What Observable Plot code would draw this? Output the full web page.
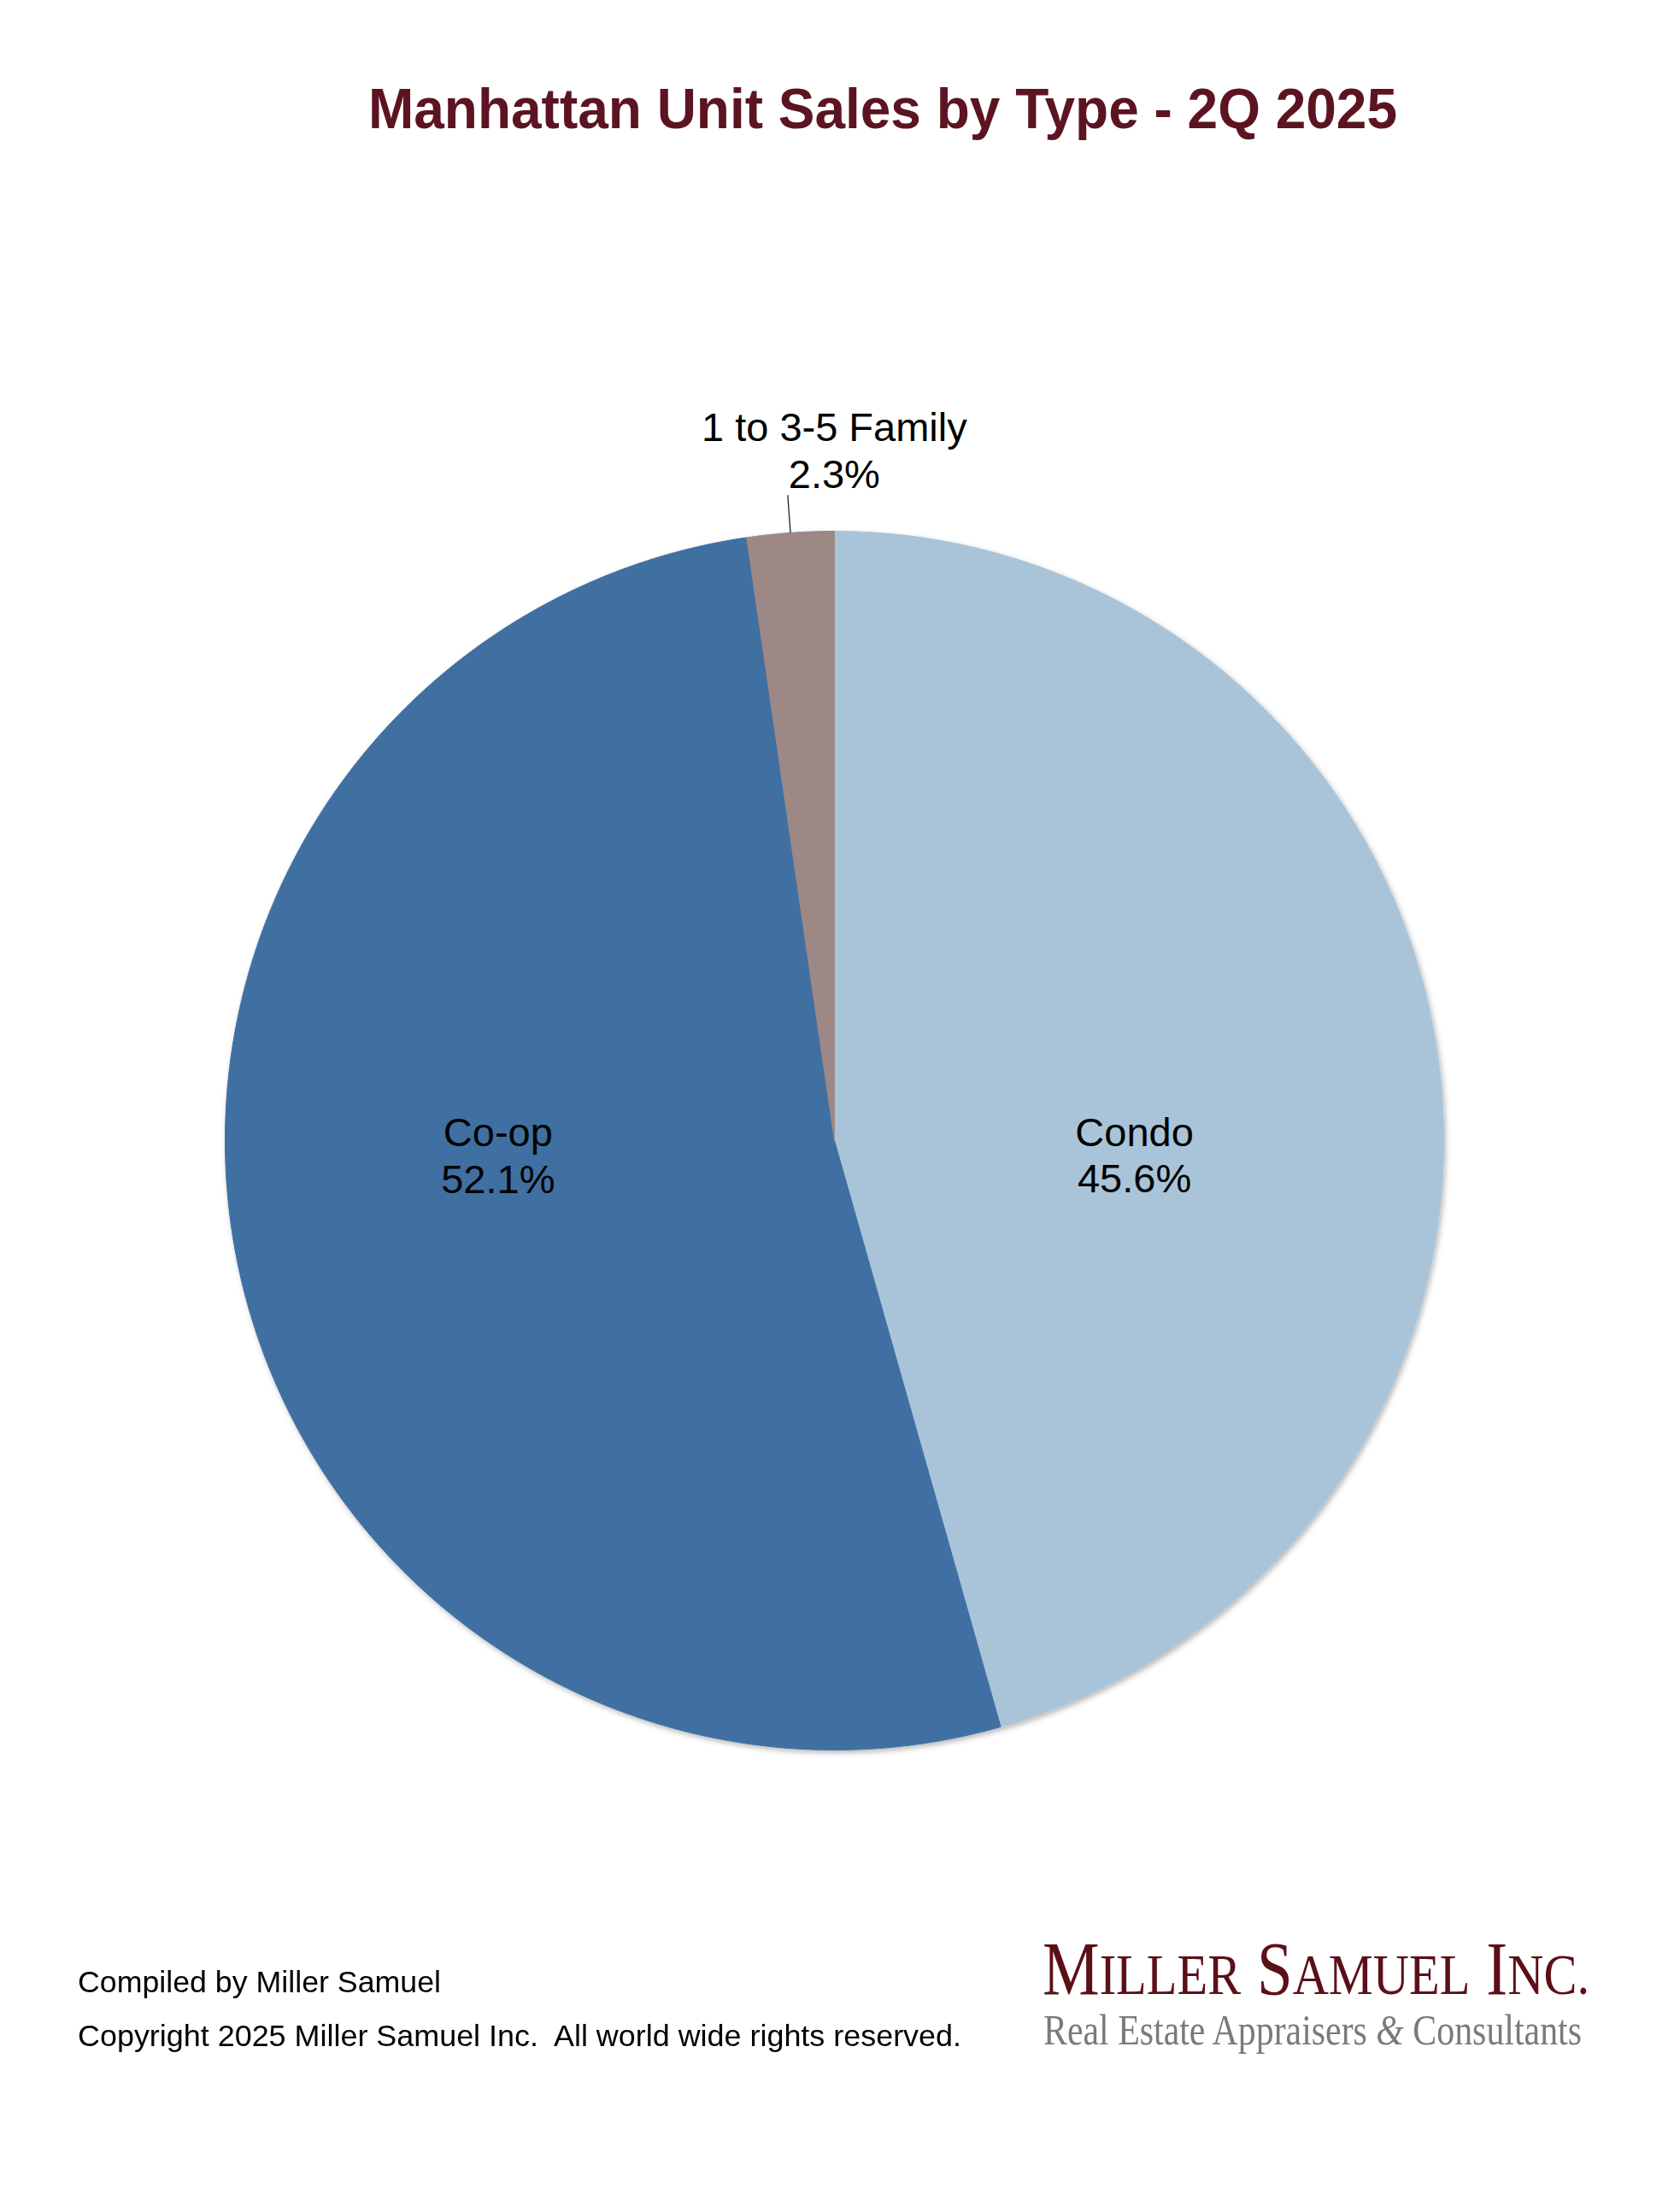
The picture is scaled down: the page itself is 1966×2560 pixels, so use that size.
<!DOCTYPE html>
<html><head><meta charset="utf-8">
<script src="https://cdn.jsdelivr.net/npm/d3@7"></script>
<script src="https://cdn.jsdelivr.net/npm/@observablehq/plot@0.6"></script>
<style>
html,body{margin:0;padding:0;background:#fff;width:1966px;height:2560px;overflow:hidden;}
.t{position:absolute;white-space:pre;line-height:1;display:inline-block;}
#chart{position:absolute;left:0;top:220px;}
</style></head><body>
<div id="chart"></div>
<script>
// ---- data ----
const categories = ["Condo", "Co-op", "1 to 3-5 Family"];
const shares = [45.6, 52.1, 2.3];
const shareLabels = ["45.6%", "52.1%", "2.3%"];
const sliceColors = ["#A9C4D9", "#4170A2", "#9E8886"];
const titleText = "Manhattan Unit Sales by Type - 2Q 2025";
const footerLines = ["Compiled by Miller Samuel", "Copyright 2025 Miller Samuel Inc.  All world wide rights reserved."];
const logoLines = ["Miller Samuel Inc.", "Real Estate Appraisers & Consultants"];

// ---- geometry from data ----
const rows = categories.map((c, i) => ({category: c, share: shares[i], label: shareLabels[i]}));
const arcs = d3.pie().sort(null).value(d => d.share)(rows);
const slices = arcs.flatMap(a => {
  const n = Math.max(2, Math.ceil((a.endAngle - a.startAngle) / (2 * Math.PI) * 720));
  const pts = [{category: a.data.category, x: 0, y: 0}];
  for (let k = 0; k <= n; k++) {
    const t = a.startAngle + (a.endAngle - a.startAngle) * k / n;
    pts.push({category: a.data.category, x: Math.sin(t), y: Math.cos(t)});
  }
  pts.push({category: a.data.category, x: 0, y: 0});
  return pts;
});
const mid = a => (a.startAngle + a.endAngle) / 2;
const labelAt = (a, r) => ({text: a.data.category + "\n" + a.data.label, x: r * Math.sin(mid(a)), y: r * Math.cos(mid(a))});

const W = 1966, H = 1960, R = 713, cx = 976, cy = 1114;
const lab = {fontSize: 47, lineHeight: 1.16, fill: "#000", x: "x", y: "y", text: "text"};
const plot = Plot.plot({
  width: W, height: H,
  marginLeft: cx - R, marginRight: W - cx - R, marginTop: cy - R, marginBottom: H - cy - R,
  x: {domain: [-1, 1], axis: null},
  y: {domain: [-1, 1], axis: null},
  color: {domain: categories, range: sliceColors},
  style: {fontFamily: "'Liberation Sans', Arial, sans-serif", background: "transparent", overflow: "visible"},
  marks: [
    Plot.line(slices, {x: "x", y: "y", z: "category", fill: "category", stroke: "category", strokeWidth: 1, curve: "linear"}),
    Plot.link([arcs[2]], {
      x1: a => Math.sin(mid(a)), y1: a => Math.cos(mid(a)),
      x2: a => 1.062 * Math.sin(mid(a)), y2: a => 1.062 * Math.cos(mid(a)),
      stroke: "#222", strokeWidth: 1.3
    }),
    Plot.text([labelAt(arcs[0], 0.5)], {...lab, dx: -2, dy: 65}),
    Plot.text([labelAt(arcs[1], 0.5)], {...lab, dx: -45, dy: -58}),
    Plot.text([labelAt(arcs[2], 1.13)], {...lab, dx: 58, dy: -5})
  ]
});
// subtle drop shadow on the pie
const ns = "http://www.w3.org/2000/svg";
const defs = document.createElementNS(ns, "defs");
defs.innerHTML = '<filter id="pieShadow" x="-10%" y="-10%" width="120%" height="120%"><feDropShadow dx="2" dy="3" stdDeviation="3" flood-color="#000" flood-opacity="0.28"/></filter>';
plot.insertBefore(defs, plot.firstChild);
const lineG = plot.querySelector('g[aria-label="line"]');
if (lineG) lineG.setAttribute("filter", "url(#pieShadow)");
document.getElementById("chart").appendChild(plot);

// ---- HTML text: title, footer, logo ----
function place(html, o) {
  const d = document.createElement("div");
  d.className = "t";
  d.style.fontFamily = o.family;
  d.style.fontSize = o.size + "px";
  d.style.fontWeight = o.weight || 400;
  d.style.color = o.color;
  d.innerHTML = html;
  const m = document.createElement("span");
  m.style.cssText = "display:inline-block;width:0;height:0;vertical-align:baseline";
  d.appendChild(m);
  d.style.left = "0px"; d.style.top = "0px";
  document.body.appendChild(d);
  const base = m.getBoundingClientRect().top - d.getBoundingClientRect().top;
  const w = d.getBoundingClientRect().width;
  const s = (o.right - o.left) / w;
  d.style.transformOrigin = "0 0";
  d.style.transform = `scaleX(${s})`;
  d.style.left = o.left + "px";
  d.style.top = (o.baseline - base) + "px";
}
const esc = s => s.replace(/&/g, "&amp;").replace(/</g, "&lt;");
// small caps: first letter of each word large, rest as smaller capitals
const smallCaps = (s, ratio) => s.split(" ").map(w =>
  esc(w[0].toUpperCase()) + `<span style="font-size:${ratio}em">${esc(w.slice(1).toUpperCase())}</span>`).join(" ");
const sans = "'Liberation Sans', Arial, sans-serif";
const serif = "'Liberation Serif', 'Times New Roman', serif";
place(esc(titleText), {family: sans, size: 66, weight: 700, color: "#5C1421", left: 431, right: 1635, baseline: 150});
place(esc(footerLines[0]), {family: sans, size: 35, color: "#000", left: 91, right: 516, baseline: 2331});
place(esc(footerLines[1]), {family: sans, size: 35, color: "#000", left: 91, right: 1125, baseline: 2394});
place(smallCaps(logoLines[0], 0.78), {family: serif, size: 88, color: "#5B1017", left: 1220, right: 1860, baseline: 2333});
place(esc(logoLines[1]).replace("&amp;", "<i>&amp;</i>"), {family: serif, size: 50, color: "#7A7A7A", left: 1221, right: 1851, baseline: 2392});
</script>
</body></html>
